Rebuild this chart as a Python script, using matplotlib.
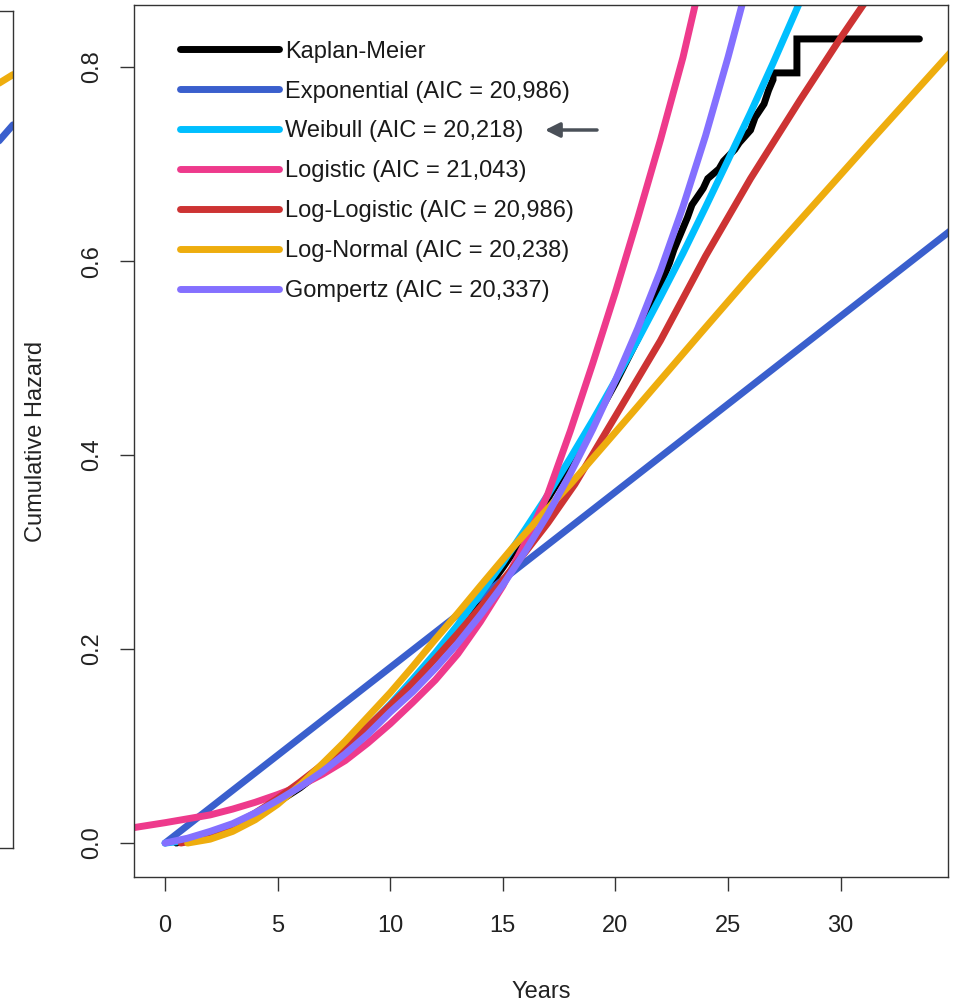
import matplotlib.pyplot as plt

plt.rcParams['font.family'] = ['Liberation Sans', 'DejaVu Sans']

# Kaplan-Meier cumulative hazard (fine steps early, visible steps at the end)
km_t = [0.5, 1, 2, 3, 4, 5, 6, 7, 8, 9, 10, 11, 12, 13, 14, 15, 16, 17, 18, 19, 20,
        21, 21.6, 21.8, 22.4, 22.6, 23.2, 23.4, 23.9, 24.1, 24.6, 24.8, 25.3, 25.5, 26.0,
        26.2, 26.6, 26.8, 27.0, 27.0, 28.06, 28.06, 33.5]
km_h = [0.0, 0.003, 0.009, 0.018, 0.029, 0.042, 0.057, 0.075, 0.095, 0.117, 0.141, 0.166,
        0.193, 0.222, 0.252, 0.284, 0.318, 0.355, 0.393, 0.432, 0.474, 0.52, 0.55, 0.565,
        0.598, 0.612, 0.645, 0.658, 0.675, 0.685, 0.695, 0.703, 0.715, 0.722, 0.735, 0.748,
        0.762, 0.776, 0.787, 0.794, 0.794, 0.829, 0.829]

exp_t = [0, 5, 10, 15, 20, 25, 30, 35]
exp_h = [0, 0.0905, 0.181, 0.2715, 0.362, 0.4525, 0.543, 0.6335]

wei_t = [0, 1, 2, 3, 4, 5, 6, 7, 8, 9, 10, 11, 12, 13, 14, 15, 16, 17, 18, 19, 20, 21, 22,
         23, 24, 25, 26, 27, 28, 28.5]
wei_h = [0, 0.0026, 0.0087, 0.0176, 0.029, 0.043, 0.0587, 0.0768, 0.0969, 0.119, 0.143,
         0.169, 0.196, 0.225, 0.2566, 0.289, 0.3236, 0.359, 0.397, 0.436, 0.477, 0.519,
         0.563, 0.608, 0.6555, 0.704, 0.753, 0.804, 0.857, 0.884]

logis_t = [-1.5, 0, 1, 2, 3, 4, 5, 6, 7, 8, 9, 10, 11, 12, 13, 14, 15, 16, 17, 18, 19, 20,
           21, 22, 23, 23.5, 24]
logis_h = [0.0155, 0.021, 0.025, 0.029, 0.035, 0.042, 0.05, 0.059, 0.071, 0.085, 0.103,
           0.123, 0.145, 0.168, 0.195, 0.228, 0.265, 0.31, 0.36, 0.425, 0.495, 0.568,
           0.645, 0.725, 0.81, 0.86, 0.91]

llog_t = [0.7, 1.6, 3, 4, 5, 6, 7, 8, 9, 10, 11, 12, 13, 14, 15, 16, 17, 18.2, 20, 22,
          24, 26, 28.2, 30, 31, 31.5]
llog_h = [0, 0.004, 0.018, 0.031, 0.046, 0.063, 0.081, 0.1, 0.12, 0.142, 0.165, 0.19,
          0.216, 0.243, 0.271, 0.3, 0.33, 0.37, 0.44, 0.518, 0.605, 0.685, 0.766, 0.83,
          0.864, 0.88]

lnorm_t = [1.0, 2, 3, 4, 5, 6, 7, 8, 9, 10, 11, 12, 13, 14, 15.45, 17, 18, 20.8, 23.76,
           26, 28.5, 31.5, 35]
lnorm_h = [0, 0.004, 0.012, 0.024, 0.04, 0.06, 0.082, 0.105, 0.13, 0.155, 0.182, 0.21,
           0.237, 0.265, 0.305, 0.345, 0.37, 0.445, 0.525, 0.585, 0.65, 0.728, 0.818]

gomp_t = [0, 1, 2, 3, 4, 5, 6, 7, 8, 9, 10, 11, 12, 13, 14, 15, 16, 17, 18, 19, 20, 21,
          22, 23, 24, 25, 26]
gomp_h = [0, 0.005, 0.012, 0.02, 0.031, 0.044, 0.058, 0.074, 0.092, 0.112, 0.135, 0.156,
          0.18, 0.206, 0.235, 0.266, 0.301, 0.339, 0.381, 0.427, 0.477, 0.531, 0.59,
          0.656, 0.729, 0.81, 0.897]

labels = ['Kaplan-Meier', 'Exponential (AIC = 20,986)', 'Weibull (AIC = 20,218)',
          'Logistic (AIC = 21,043)', 'Log-Logistic (AIC = 20,986)',
          'Log-Normal (AIC = 20,238)', 'Gompertz (AIC = 20,337)']
colors = ['black', '#3A5FCD', '#00BFFF', '#EE3A8C', '#CD3333', '#EEAD0E', '#8470FF']

# the neighbouring panel, cut off at the left edge
left_x = [0.9, 1.0]
left_lnorm = [0.901, 0.924]
left_exp = [0.821, 0.864]

fig = plt.figure(figsize=(9.55, 10.02), dpi=100)

ax0 = fig.add_axes([-300 / 955, 1 - 848 / 1002, 313 / 955, 837 / 1002])
ax0.plot(left_x, left_lnorm, color=colors[5], lw=5, solid_capstyle='round')
ax0.plot(left_x, left_exp, color=colors[1], lw=5, solid_capstyle='round')
ax0.set_xlim(0, 1)
ax0.set_ylim(0, 1)
ax0.set_xticks([])
ax0.set_yticks([])
for s in ax0.spines.values():
    s.set_color('#333333')
    s.set_linewidth(1.0)

ax = fig.add_axes([134 / 955, 1 - 877 / 1002, 814 / 955, 872 / 1002])
lw = 5
ax.plot(km_t, km_h, color=colors[0], lw=lw, label=labels[0],
        solid_capstyle='round', solid_joinstyle='miter')
series = [(exp_t, exp_h), (wei_t, wei_h), (logis_t, logis_h), (llog_t, llog_h),
          (lnorm_t, lnorm_h), (gomp_t, gomp_h)]
for i, (t, h) in enumerate(series):
    ax.plot(t, h, color=colors[i + 1], lw=lw, label=labels[i + 1], solid_capstyle='round')

ax.set_xlim(-1.38, 34.77)
ax.set_ylim(-0.035, 0.864)
ax.set_xticks([0, 5, 10, 15, 20, 25, 30])
ax.set_yticks([0.0, 0.2, 0.4, 0.6, 0.8])
ax.set_yticklabels(['0.0', '0.2', '0.4', '0.6', '0.8'], rotation=90, va='center')
ax.tick_params(axis='both', length=10, width=1.0, color='#333333', labelsize=17,
               labelcolor='#222222')
ax.tick_params(axis='x', pad=17)
ax.tick_params(axis='y', pad=12)
for s in ax.spines.values():
    s.set_color('#333333')
    s.set_linewidth(1.0)

ax.set_xlabel('Years', fontsize=17, color='#222222', labelpad=32)
ax.set_ylabel('Cumulative Hazard', fontsize=17, color='#222222', labelpad=25)

leg = ax.legend(loc='upper left', bbox_to_anchor=(0.045, 0.97), frameon=False,
                fontsize=17, handlelength=4.2, handletextpad=0.25, labelspacing=0.76,
                borderaxespad=0)
for txt in leg.get_texts():
    txt.set_color('#1a1a1a')

# arrow pointing at the Weibull entry
ax.annotate('', xy=(545 / 955, 1 - 130 / 1002), xytext=(597 / 955, 1 - 130 / 1002),
            xycoords='figure fraction', textcoords='figure fraction',
            arrowprops=dict(arrowstyle='-|>', color='#4a5058', lw=2.5,
                            mutation_scale=22, shrinkA=0, shrinkB=0))

fig.savefig('out.png', dpi=100)
